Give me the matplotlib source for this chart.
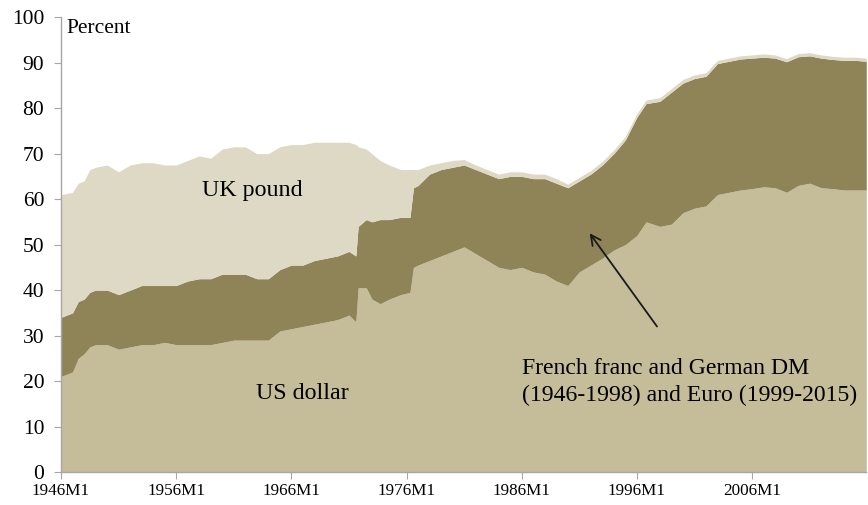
import numpy as np
import matplotlib
matplotlib.use("Agg")
from matplotlib import pyplot as plt

# decimal year, then the top edge of each stacked layer (percent)
years = [1946.0, 1947.0, 1947.5, 1948.0, 1948.5, 1949.0, 1950.0, 1951.0, 1952.0, 1953.0,
         1954.0, 1955.0, 1956.0, 1957.0, 1958.0, 1959.0, 1960.0, 1961.0, 1962.0, 1963.0,
         1964.0, 1965.0, 1966.0, 1967.0, 1968.0, 1969.0, 1970.0, 1971.0, 1971.6, 1971.8,
         1972.5, 1973.0, 1973.7, 1974.5, 1975.5, 1976.3, 1976.6, 1977.0, 1978.0, 1979.0,
         1980.0, 1981.0, 1982.0, 1983.0, 1984.0, 1985.0, 1986.0, 1987.0, 1988.0, 1989.0,
         1990.0, 1991.0, 1992.0, 1993.0, 1994.0, 1995.0, 1996.0, 1996.8, 1998.0, 1999.0,
         2000.0, 2001.0, 2002.0, 2003.0, 2004.0, 2005.0, 2006.0, 2007.0, 2008.0, 2009.0,
         2010.0, 2011.0, 2012.0, 2013.0, 2014.0, 2015.0, 2015.92]

usd_top = [21, 22, 25, 26, 27.5, 28, 28, 27, 27.5, 28,
           28, 28.5, 28, 28, 28, 28, 28.5, 29, 29, 29,
           29, 31, 31.5, 32, 32.5, 33, 33.5, 34.5, 33, 40.5,
           40.5, 38, 37, 38, 39, 39.5, 45, 45.5, 46.5, 47.5,
           48.5, 49.5, 48, 46.5, 45, 44.5, 45, 44, 43.5, 42,
           41, 44, 45.5, 47, 48.8, 50, 52, 55, 54, 54.5,
           57, 58, 58.5, 61, 61.5, 62, 62.3, 62.7, 62.5, 61.5,
           63, 63.5, 62.5, 62.3, 62, 62, 62]

frdm_top = [34, 35, 37.5, 38, 39.5, 40, 40, 39, 40, 41,
            41, 41, 41, 42, 42.5, 42.5, 43.5, 43.5, 43.5, 42.5,
            42.5, 44.5, 45.5, 45.5, 46.5, 47, 47.5, 48.5, 47.5, 54,
            55.5, 55, 55.5, 55.5, 56, 56, 62.5, 63, 65.5, 66.5,
            67, 67.5, 66.5, 65.5, 64.5, 65, 65, 64.5, 64.5, 63.5,
            62.5, 64, 65.5, 67.5, 70, 73, 78, 81, 81.5, 83.5,
            85.5, 86.5, 87, 89.8, 90.3, 90.8, 91, 91.2, 91, 90.2,
            91.3, 91.5, 91, 90.7, 90.5, 90.5, 90.3]

gbp_top = [61, 61.5, 63.5, 64, 66.5, 67, 67.5, 66, 67.5, 68,
           68, 67.5, 67.5, 68.5, 69.5, 69, 71, 71.5, 71.5, 70,
           70, 71.5, 72, 72, 72.5, 72.5, 72.5, 72.5, 72, 71.5,
           71, 70, 68.5, 67.5, 66.5, 66.5, 66.5, 66.5, 67.5, 68,
           68.5, 68.7, 67.5, 66.5, 65.5, 66, 66, 65.5, 65.5, 64.5,
           63.3, 64.8, 66.3, 68.3, 70.8, 73.8, 78.8, 81.8, 82.3, 84.3,
           86.3, 87.3, 87.8, 90.5, 91, 91.5, 91.7, 91.9, 91.7, 90.9,
           92, 92.2, 91.7, 91.4, 91.2, 91.2, 91]

tick_years = [1946, 1956, 1966, 1976, 1986, 1996, 2006]
tick_labels = [f"{y}M1" for y in tick_years]

plt.rcParams['font.family'] = ['Liberation Serif', 'DejaVu Serif']

years = np.array(years)
usd_top = np.array(usd_top)
frdm_top = np.array(frdm_top)
gbp_top = np.array(gbp_top)

fig = plt.figure(figsize=(8.68, 5.05), dpi=100)
ax = fig.add_axes([0.0703, 0.0653, 0.9277, 0.9007])

ax.fill_between(years, 0, usd_top, color='#C5BC99', lw=0)
ax.fill_between(years, usd_top, frdm_top, color='#8F8457', lw=0)
ax.fill_between(years, frdm_top, gbp_top, color='#DDD9C5', lw=0)

ax.set_xlim(1946, 2015.92)
ax.set_ylim(0, 100)
ax.set_yticks(range(0, 101, 10))
ax.set_xticks(tick_years)
ax.set_xticklabels(tick_labels)

for s in ['top', 'right']:
    ax.spines[s].set_visible(False)
for s in ['left', 'bottom']:
    ax.spines[s].set_color('#A6A6A6')
    ax.spines[s].set_linewidth(1.0)
ax.tick_params(axis='y', direction='out', length=5, color='#A6A6A6', labelsize=15.5, pad=7)
ax.tick_params(axis='x', direction='out', length=5, color='#A6A6A6', labelsize=12.3, pad=3)

ax.text(1946.5, 97.5, "Percent", fontsize=15.5, va='center', ha='left')
ax.text(1958.2, 61.8, "UK pound", fontsize=17.3, va='center', ha='left')
ax.text(1962.9, 17.2, "US dollar", fontsize=17.3, va='center', ha='left')
ax.text(1986.0, 19.8, "French franc and German DM\n(1946-1998) and Euro (1999-2015)",
        fontsize=17.1, va='center', ha='left', linespacing=1.35)

ax.annotate("", xy=(1991.9, 52.5), xytext=(1997.75, 32.0),
            arrowprops=dict(arrowstyle='->', color='#1a1a1a', lw=1.3,
                            mutation_scale=18, shrinkA=0, shrinkB=0))

fig.savefig("out.png", dpi=100)
